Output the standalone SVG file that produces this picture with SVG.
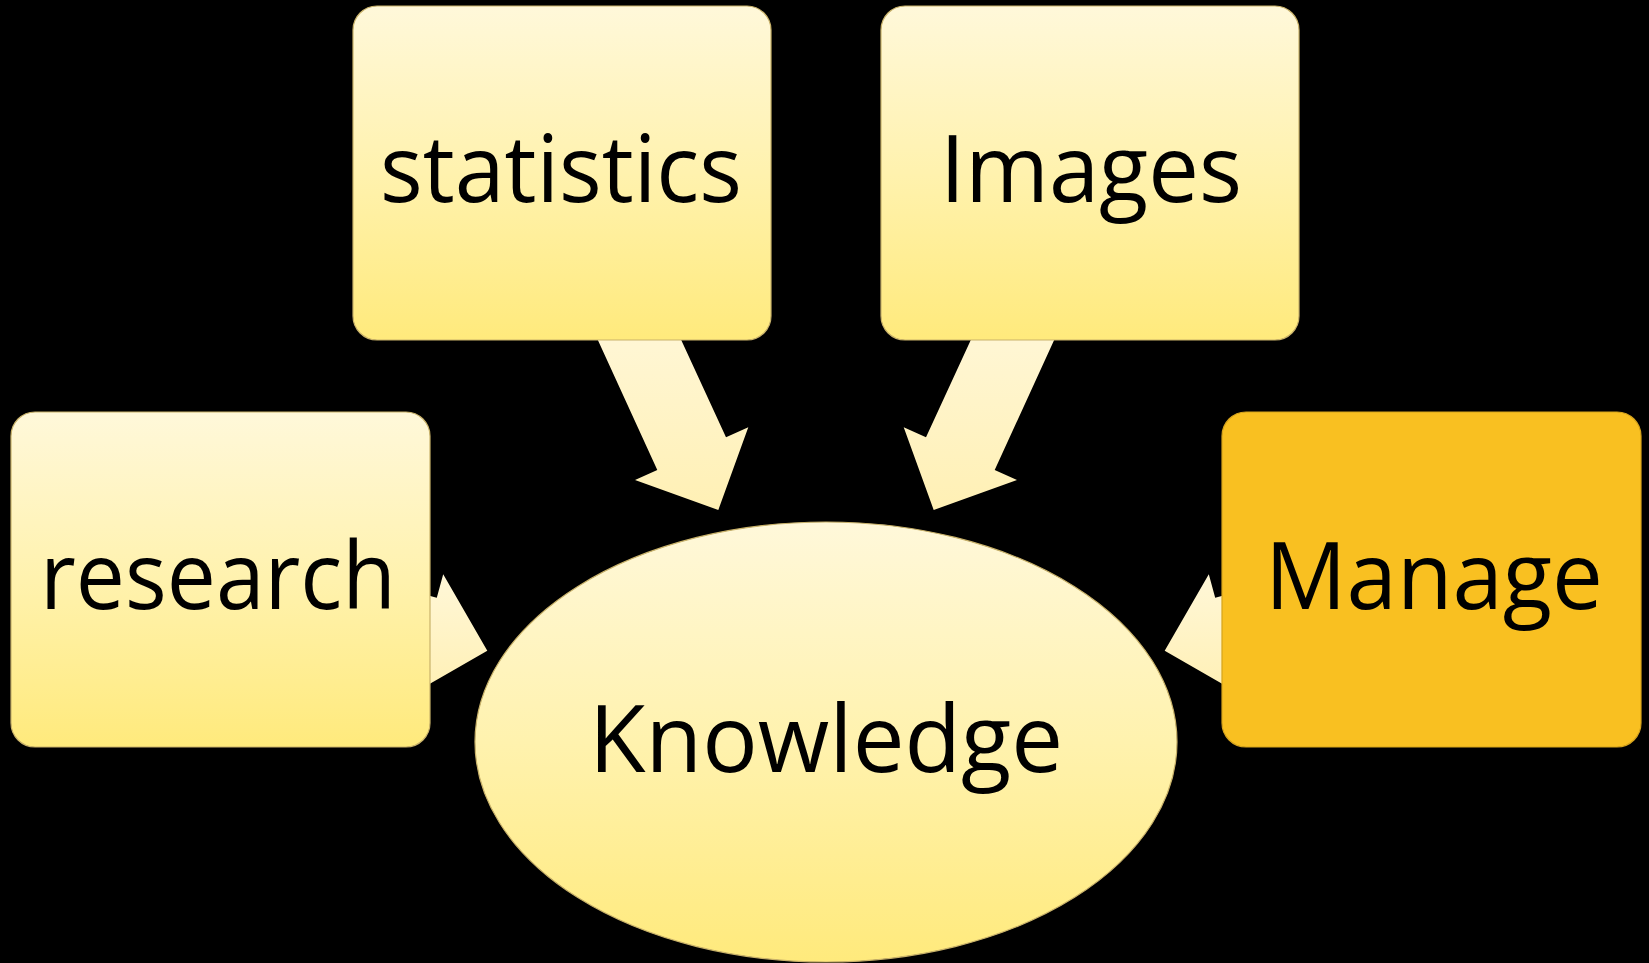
<svg xmlns="http://www.w3.org/2000/svg" width="1649" height="963" viewBox="0 0 1649 963">
  <defs>
    <linearGradient id="gBox" x1="0" y1="0" x2="0" y2="1">
      <stop offset="0" stop-color="#FFF8DA"/>
      <stop offset="0.5" stop-color="#FFF2AE"/>
      <stop offset="1" stop-color="#FFEA7C"/>
    </linearGradient>
    <linearGradient id="gArrow" x1="0" y1="0" x2="0" y2="1">
      <stop offset="0" stop-color="#FFF7D8"/>
      <stop offset="1" stop-color="#FFF0B4"/>
    </linearGradient>
    <style>
      .box { fill: url(#gBox); stroke: #C9B26A; stroke-width: 1.2; }
      .hot { fill: #F9C021; stroke: #D6A31C; stroke-width: 1.2; }
      .arrow { fill: url(#gArrow); }
      .lbl { font-family: "Open Sans", "Noto Sans", "Liberation Sans", sans-serif; font-size: 93px; fill: #000; text-anchor: middle; }
    </style>
  </defs>
  <rect x="0" y="0" width="1649" height="963" fill="#000"/>

  <g id="connectors">
    <polygon class="arrow" points="588.7,320 672,320 726,437.3 748.3,427.3 718.3,510 635,480 657.3,470"/>
    <polygon class="arrow" points="1063.3,320 980,320 926,437.3 903.7,427.3 933.7,510 1017,480 994.7,470"/>
    <polygon class="arrow" points="378.8,582.3 436.8,597.8 443.2,574.2 487.3,650.7 410.8,694.8 417.2,671.2 359.2,655.7"/>
    <polygon class="arrow" points="1273.2,582.3 1215.2,597.8 1208.8,574.2 1164.7,650.7 1241.2,694.8 1234.8,671.2 1292.8,655.7"/>
  </g>

  <g id="node-statistics">
    <rect class="box" x="353" y="6" width="418" height="334" rx="24"/>
    <text class="lbl" x="561" y="202" textLength="362" lengthAdjust="spacingAndGlyphs">statistics</text>
  </g>
  <g id="node-images">
    <rect class="box" x="881" y="6" width="418" height="334" rx="24"/>
    <text class="lbl" x="1091" y="202" textLength="302" lengthAdjust="spacingAndGlyphs">Images</text>
  </g>
  <g id="node-research">
    <rect class="box" x="11" y="412" width="419" height="335" rx="24"/>
    <text class="lbl" x="218" y="609" textLength="356" lengthAdjust="spacingAndGlyphs">research</text>
  </g>
  <g id="node-manage">
    <rect class="hot" x="1222" y="412" width="419" height="335" rx="24"/>
    <text class="lbl" x="1434" y="609" textLength="338" lengthAdjust="spacingAndGlyphs">Manage</text>
  </g>
  <g id="node-knowledge">
    <ellipse class="box" cx="826" cy="742" rx="351" ry="220"/>
    <text class="lbl" x="826" y="772" textLength="474" lengthAdjust="spacingAndGlyphs">Knowledge</text>
  </g>
</svg>
